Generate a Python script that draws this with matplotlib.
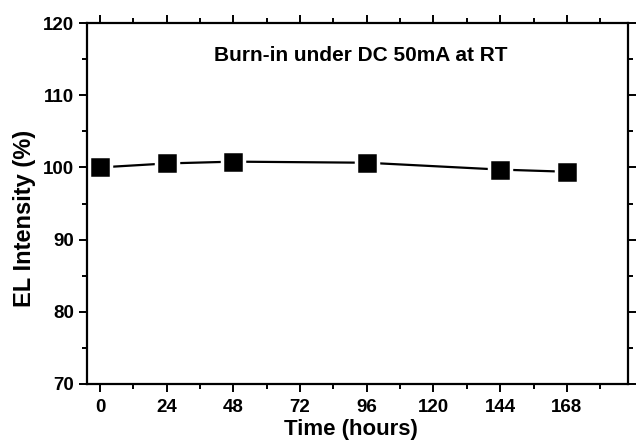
import matplotlib
matplotlib.use("Agg")
import matplotlib.pyplot as plt
from matplotlib.ticker import MultipleLocator

hours = [0, 24, 48, 96, 144, 168]
intensity = [100.0, 100.55, 100.8, 100.65, 99.7, 99.4]
xticks = [0, 24, 48, 72, 96, 120, 144, 168]
yticks = [70, 80, 90, 100, 110, 120]

plt.rcParams['font.family'] = ['Liberation Sans', 'DejaVu Sans']
plt.rcParams['font.weight'] = 'bold'

fig = plt.figure(figsize=(6.41, 4.43), dpi=100)
ax = fig.add_axes([0.1357, 0.1332, 0.9797 - 0.1357, 0.948 - 0.1332])

ax.plot(hours, intensity, color='black', lw=1.6, marker='s', ms=15.5,
        markerfacecolor='black', markeredgecolor='white', mew=2.5)

ax.set_xlim(-4.7, 190)
ax.set_ylim(70, 120)
ax.set_xticks(xticks)
ax.set_yticks(yticks)
ax.xaxis.set_minor_locator(MultipleLocator(12))
ax.yaxis.set_minor_locator(MultipleLocator(5))

for s in ax.spines.values():
    s.set_linewidth(1.6)
ax.tick_params(which='both', direction='out', top=True, right=True, width=1.4,
               labeltop=False, labelright=False)
ax.tick_params(which='major', length=6, labelsize=13.5)
ax.tick_params(axis='x', which='major', pad=5)
ax.tick_params(axis='y', which='major', pad=3)
ax.tick_params(which='minor', length=3.5)
for lab in ax.get_xticklabels() + ax.get_yticklabels():
    lab.set_fontweight('bold')

ax.set_xlabel('Time (hours)', fontsize=16, fontweight='bold')
ax.set_ylabel('EL Intensity (%)', fontsize=17, fontweight='bold')
ax.xaxis.set_label_coords(0.487, -0.097)
ax.yaxis.set_label_coords(-0.094, 0.46)
ax.text(0.235, 0.911, 'Burn-in under DC 50mA at RT', transform=ax.transAxes,
        fontsize=15, fontweight='bold', va='center', ha='left')

fig.savefig('out.png', dpi=100)
